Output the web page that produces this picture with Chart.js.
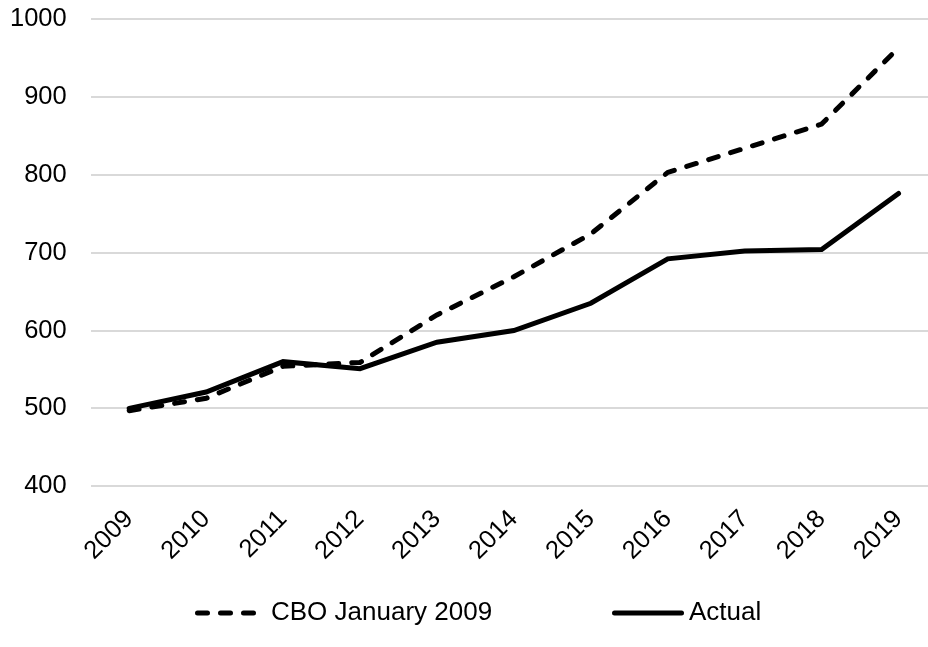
<!DOCTYPE html>
<html>
<head>
<meta charset="utf-8">
<script src="https://cdn.jsdelivr.net/npm/chart.js@4"></script>
<style>
  html, body { margin: 0; padding: 0; background: #fff; overflow: hidden; }
  /* plot runs a little past the right edge of the window */
  #wrap { width: 937px; height: 647px; }
</style>
</head>
<body>
<div id="wrap"><canvas id="spendChart"></canvas></div>
<script>
const years = ['2009', '2010', '2011', '2012', '2013', '2014', '2015', '2016', '2017', '2018', '2019'];
const cboJan2009 = [497, 513, 554, 559, 620, 669, 724, 803, 834, 865, 963];
const actual = [500, 521, 560, 551, 585, 600, 635, 692, 702, 704, 776];
const yTicks = [400, 500, 600, 700, 800, 900, 1000];

const FONT = 'Arial, "Liberation Sans", sans-serif';

// legend drawn by hand so the two entries can sit far apart
const legendSlots = [
  { lineFrom: 195, lineTo: 262, textX: 271 },
  { lineFrom: 612, lineTo: 684, textX: 689 }
];
const bottomLegend = {
  id: 'bottomLegend',
  afterDraw(chart) {
    const ctx = chart.ctx;
    const y = 613;
    ctx.save();
    ctx.font = '26px ' + FONT;
    ctx.textBaseline = 'middle';
    chart.data.datasets.forEach((ds, i) => {
      const s = legendSlots[i];
      ctx.beginPath();
      ctx.lineWidth = ds.borderWidth;
      ctx.strokeStyle = ds.borderColor;
      ctx.lineCap = 'round';
      ctx.setLineDash(ds.borderDash || []);
      ctx.moveTo(s.lineFrom + 2.5, y);
      ctx.lineTo(s.lineTo - 2.5, y);
      ctx.stroke();
      ctx.setLineDash([]);
      ctx.fillStyle = '#000';
      ctx.fillText(ds.label, s.textX, y);
    });
    ctx.restore();
  }
};

// keep the plot edges fixed; labels may hang past them
const noEdgePadding = axis => {
  axis.paddingLeft = 0;
  axis.paddingRight = 0;
  axis.paddingTop = 0;
  axis.paddingBottom = 0;
};

new Chart(document.getElementById('spendChart'), {
  type: 'line',
  data: {
    labels: years,
    datasets: [
      {
        label: 'CBO January 2009',
        data: cboJan2009,
        borderColor: '#000',
        borderWidth: 5,
        borderDash: [10, 13],
        borderCapStyle: 'round',
        pointRadius: 0,
        tension: 0
      },
      {
        label: 'Actual',
        data: actual,
        borderColor: '#000',
        borderWidth: 5,
        borderCapStyle: 'round',
        pointRadius: 0,
        tension: 0
      }
    ]
  },
  options: {
    responsive: true,
    maintainAspectRatio: false,
    animation: false,
    layout: { padding: { left: -14, right: 0, top: 19, bottom: 71 } },
    scales: {
      x: {
        offset: true,
        afterFit: noEdgePadding,
        grid: { display: false },
        border: { display: false },
        ticks: {
          color: '#000',
          font: { family: FONT, size: 25.5 },
          minRotation: 45,
          maxRotation: 45,
          padding: 10
        }
      },
      y: {
        min: 400,
        max: 1000,
        afterFit: noEdgePadding,
        afterBuildTicks(axis) {
          axis.ticks = yTicks.map(v => ({ value: v }));
        },
        grid: { color: '#d9d9d9', lineWidth: 2, drawTicks: false },
        border: { display: false },
        ticks: {
          color: '#000',
          font: { family: FONT, size: 25.5 },
          padding: 24,
          callback: v => String(v)
        }
      }
    },
    plugins: {
      legend: { display: false },
      tooltip: { enabled: false }
    }
  },
  plugins: [bottomLegend]
});
</script>
</body>
</html>
